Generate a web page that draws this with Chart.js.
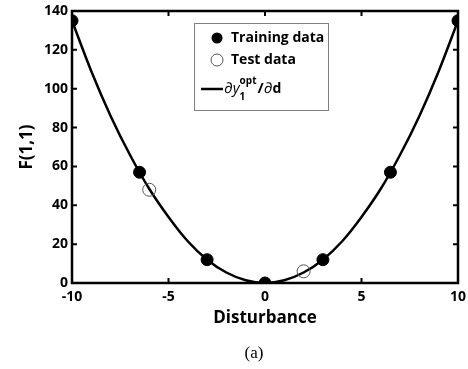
<!DOCTYPE html>
<html lang="en">
<head>
    <meta charset="UTF-8">
    <title>F(1,1) vs Disturbance</title>
    <script src="https://cdn.jsdelivr.net/npm/chart.js"></script>
    <style>
        html, body { margin: 0; padding: 0; background: #fff; }
        #wrap { position: relative; width: 468px; height: 369px; }
    </style>
</head>
<body>
    <div id="wrap"><canvas id="chart" width="468" height="369"></canvas></div>

    <script>
        // Data
        const curveD = [-10, -9, -8, -7, -6, -5, -4, -3, -2, -1, 0, 1, 2, 3, 4, 5, 6, 7, 8, 9, 10];
        const curveF = [135, 109, 86, 66, 48.5, 34, 21.5, 12, 5.4, 1.4, 0, 1.4, 5.4, 12, 21.5, 34, 48.5, 66, 86, 109, 135];
        const trainD = [-10, -6.5, -3, 0, 3, 6.5, 10];
        const trainF = [135, 57, 12, 0, 12, 57, 135];
        const testD = [-6, 2];
        const testF = [48, 6];
        const xTicks = [-10, -5, 0, 5, 10];
        const yTicks = [0, 20, 40, 60, 80, 100, 120, 140];

        const toXY = (xs, ys) => xs.map((x, i) => ({ x: x, y: ys[i] }));
        const FONT = "'Open Sans', sans-serif";

        // frame, inward ticks, legend box and caption
        const decorations = {
            id: 'decorations',
            afterDraw(chart) {
                const ctx = chart.ctx;
                const a = chart.chartArea;
                const xs = chart.scales.x, ys = chart.scales.y;
                ctx.save();
                ctx.strokeStyle = '#000';
                ctx.lineWidth = 2;
                xTicks.forEach(v => {
                    const px = xs.getPixelForValue(v);
                    ctx.beginPath();
                    ctx.moveTo(px, a.bottom); ctx.lineTo(px, a.bottom - 5);
                    ctx.moveTo(px, a.top); ctx.lineTo(px, a.top + 5);
                    ctx.stroke();
                });
                yTicks.forEach(v => {
                    const py = ys.getPixelForValue(v);
                    ctx.beginPath();
                    ctx.moveTo(a.left, py); ctx.lineTo(a.left + 5, py);
                    ctx.moveTo(a.right, py); ctx.lineTo(a.right - 5, py);
                    ctx.stroke();
                });
                ctx.lineWidth = 2.5;
                ctx.strokeRect(a.left, a.top, a.right - a.left, a.bottom - a.top);

                // legend
                const lx = 194, ly = 23, lw = 134, lh = 87;
                ctx.fillStyle = '#fff';
                ctx.fillRect(lx, ly, lw, lh);
                ctx.strokeStyle = '#808080';
                ctx.lineWidth = 1;
                ctx.strokeRect(lx + 0.5, ly + 0.5, lw, lh);

                ctx.fillStyle = '#000';
                ctx.beginPath();
                ctx.arc(217, 38, 5.5, 0, Math.PI * 2);
                ctx.fill();
                ctx.strokeStyle = '#555';
                ctx.beginPath();
                ctx.arc(217, 60, 6, 0, Math.PI * 2);
                ctx.stroke();
                ctx.strokeStyle = '#000';
                ctx.lineWidth = 2.5;
                ctx.beginPath();
                ctx.moveTo(201, 89); ctx.lineTo(223, 89);
                ctx.stroke();

                ctx.font = 'bold 14px ' + FONT;
                ctx.textBaseline = 'middle';
                ctx.textAlign = 'left';
                ctx.fillText('Training data', 231, 38);
                ctx.fillText('Test data', 231, 60);
                ctx.font = 'italic 15px ' + FONT;
                ctx.fillText('\u2202y', 224, 89);
                let w = ctx.measureText('\u2202y').width;
                ctx.font = 'bold 10px ' + FONT;
                ctx.fillText('opt', 224 + w, 81);
                ctx.fillText('1', 224 + w, 97);
                const w2 = ctx.measureText('opt').width;
                ctx.font = 'bold 15px ' + FONT;
                ctx.fillText('/', 224 + w + w2 + 1, 89);
                const w3 = ctx.measureText('/').width;
                ctx.font = 'italic 15px ' + FONT;
                ctx.fillText('\u2202', 224 + w + w2 + w3 + 1, 89);
                const w4 = ctx.measureText('\u2202').width;
                ctx.font = 'bold 14px ' + FONT;
                ctx.fillText('d', 224 + w + w2 + w3 + w4 + 1, 89);

                // caption
                ctx.font = "17px 'Liberation Serif', serif";
                ctx.textAlign = 'center';
                ctx.fillText('(a)', 254, 354);
                ctx.restore();
            }
        };

        new Chart(document.getElementById('chart'), {
            type: 'scatter',
            data: {
                datasets: [
                    {
                        label: 'curve',
                        type: 'line',
                        data: toXY(curveD, curveF),
                        borderColor: '#000',
                        borderWidth: 2.5,
                        pointRadius: 0,
                        cubicInterpolationMode: 'monotone',
                        fill: false,
                        order: 3
                    },
                    {
                        label: 'Training data',
                        data: toXY(trainD, trainF),
                        backgroundColor: '#000',
                        borderColor: '#000',
                        pointRadius: 6,
                        order: 1
                    },
                    {
                        label: 'Test data',
                        data: toXY(testD, testF),
                        backgroundColor: 'rgba(0,0,0,0)',
                        borderColor: '#555',
                        borderWidth: 1,
                        pointRadius: 6.5,
                        order: 2
                    }
                ]
            },
            options: {
                responsive: false,
                animation: false,
                layout: { padding: { top: 11, right: 10, bottom: 37, left: 0 } },
                plugins: {
                    legend: { display: false },
                    tooltip: { enabled: false }
                },
                scales: {
                    x: {
                        type: 'linear',
                        min: -10, max: 10,
                        afterBuildTicks: s => { s.ticks = xTicks.map(v => ({ value: v })); },
                        afterFit: s => { s.height = 49; s.paddingLeft = 0; s.paddingRight = 0; },
                        grid: { display: false, drawTicks: false },
                        border: { display: false },
                        ticks: { color: '#000', padding: 6, font: { family: FONT, size: 14, weight: 'bold' } },
                        title: {
                            display: true, text: 'Disturbance', color: '#000',
                            padding: { top: 0, bottom: 4 },
                            font: { family: FONT, size: 17, weight: 'bold' }
                        }
                    },
                    y: {
                        type: 'linear',
                        min: 0, max: 140,
                        afterBuildTicks: s => { s.ticks = yTicks.map(v => ({ value: v })); },
                        afterFit: s => { s.width = 72; s.paddingTop = 0; s.paddingBottom = 0; },
                        grid: { display: false, drawTicks: false },
                        border: { display: false },
                        ticks: { color: '#000', padding: 4, font: { family: FONT, size: 14, weight: 'bold' } },
                        title: {
                            display: true, text: 'F(1,1)', color: '#000',
                            padding: { top: 17, bottom: 0 },
                            font: { family: FONT, size: 17, weight: 'bold' }
                        }
                    }
                }
            },
            plugins: [decorations]
        });
    </script>
</body>
</html>
